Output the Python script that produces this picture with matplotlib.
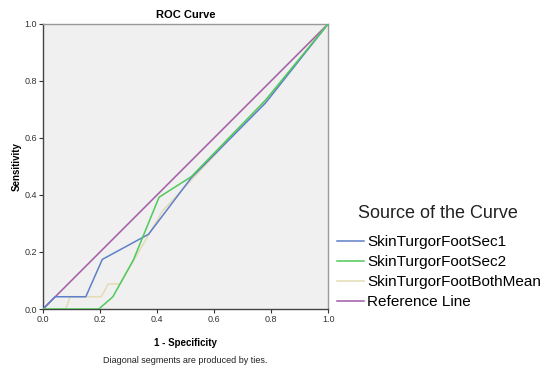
import matplotlib
matplotlib.use("Agg")
import matplotlib.pyplot as plt

plt.rcParams['font.family'] = ['Liberation Sans', 'DejaVu Sans']

# ROC coordinates (1 - specificity, sensitivity)
sec1_fpr = [0.0, 0.042, 0.15, 0.208, 0.37, 0.52, 0.78, 1.0]
sec1_tpr = [0.0, 0.043, 0.043, 0.174, 0.262, 0.46, 0.722, 1.0]

sec2_fpr = [0.0, 0.196, 0.245, 0.317, 0.407, 0.52, 0.78, 1.0]
sec2_tpr = [0.0, 0.0, 0.043, 0.172, 0.392, 0.464, 0.732, 1.0]

mean_fpr = [0.0, 0.08, 0.095, 0.204, 0.229, 0.27, 0.42, 0.78, 1.0]
mean_tpr = [0.0, 0.0, 0.043, 0.043, 0.088, 0.088, 0.345, 0.73, 1.0]

ref_x = [0.0, 1.0]
ref_y = [0.0, 1.0]

series_names = ["SkinTurgorFootSec1", "SkinTurgorFootSec2",
                "SkinTurgorFootBothMean", "Reference Line"]
colors = ["#5f7fca", "#4ec95a", "#e3dcb4", "#a35aa5"]

fig = plt.figure(figsize=(5.41, 3.67), dpi=100)
ax = fig.add_axes([0.0795, 0.158, 0.527, 0.777])
ax.set_facecolor("#f0f0f0")

ax.plot(sec1_fpr, sec1_tpr, color=colors[0], lw=1.1, label=series_names[0], zorder=3)
ax.plot(sec2_fpr, sec2_tpr, color=colors[1], lw=1.1, label=series_names[1], zorder=4)
ax.plot(mean_fpr, mean_tpr, color=colors[2], lw=1.1, label=series_names[2], zorder=2)
ax.plot(ref_x, ref_y, color=colors[3], lw=1.1, label=series_names[3], zorder=1)

ax.set_xlim(0, 1)
ax.set_ylim(0, 1)
ticks = [0.0, 0.2, 0.4, 0.6, 0.8, 1.0]
ax.set_xticks(ticks)
ax.set_yticks(ticks)
ax.set_xticklabels([f"{t:.1f}" for t in ticks])
ax.set_yticklabels([f"{t:.1f}" for t in ticks])
ax.tick_params(direction="out", length=3, width=0.8, labelsize=6.5,
               colors="#333333", pad=1.5)

for side in ("left", "bottom"):
    ax.spines[side].set_color("#444444")
    ax.spines[side].set_linewidth(1.0)
for side in ("top", "right"):
    ax.spines[side].set_color("#999999")
    ax.spines[side].set_linewidth(1.0)

ax.set_title("ROC Curve", fontsize=8, fontweight="bold", pad=4)
ax.set_xlabel("1 - Specificity", fontsize=7, fontweight="bold", labelpad=10)
ax.set_ylabel("Sensitivity", fontsize=7, fontweight="bold", labelpad=2)

fig.text(0.342, 0.006, "Diagonal segments are produced by ties.",
         ha="center", va="bottom", fontsize=6.5, color="#222222")

# legend title drawn separately, entries below it
fig.text(0.662, 0.417, "Source of the Curve", ha="left", va="center",
         fontsize=13, color="#222222")
leg = fig.legend(loc="upper left", bbox_to_anchor=(0.622, 0.36), frameon=False,
                 fontsize=11, handlelength=1.8, handletextpad=0.2,
                 labelspacing=0.4, borderpad=0, borderaxespad=0)

fig.savefig("out.png", dpi=100, facecolor="white")
